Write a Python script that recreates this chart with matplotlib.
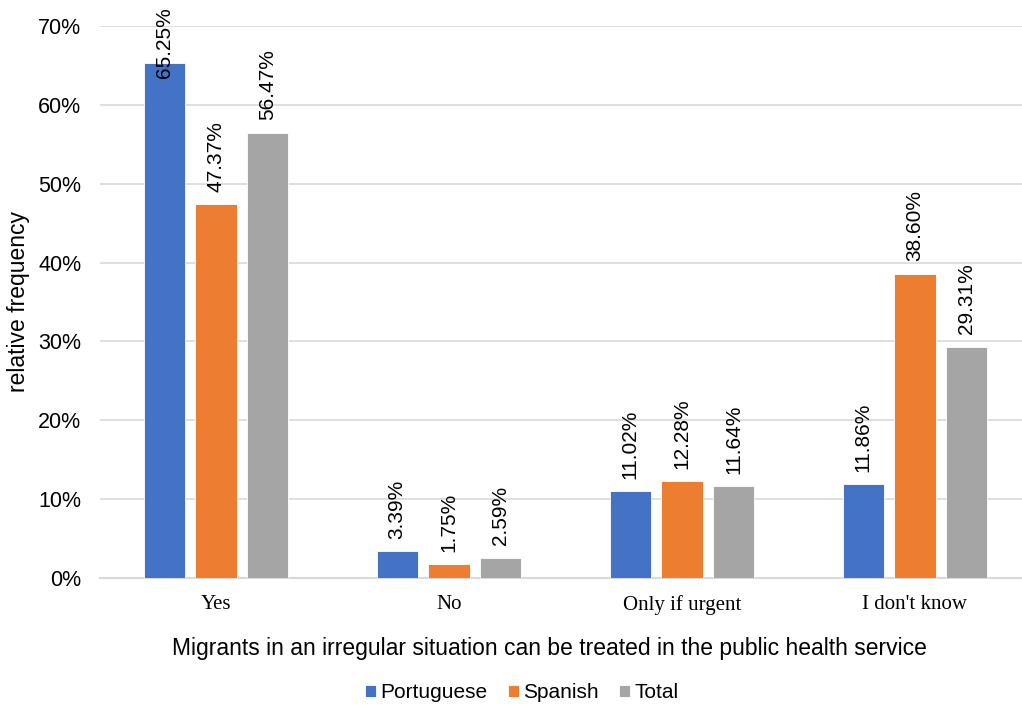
import numpy as np
import matplotlib.pyplot as plt

categories = ["Yes", "No", "Only if urgent", "I don't know"]
series_names = ["Portuguese", "Spanish", "Total"]
portuguese = [65.25, 3.39, 11.02, 11.86]
spanish = [47.37, 1.75, 12.28, 38.60]
total = [56.47, 2.59, 11.64, 29.31]
y_ticks = [0, 10, 20, 30, 40, 50, 60, 70]

colors = ["#4472C4", "#ED7D31", "#A5A5A5"]

plt.rcParams['font.family'] = ['Liberation Sans', 'DejaVu Sans']

fig = plt.figure(figsize=(10.22, 7.08), dpi=100)
# plot area runs slightly past the right edge of the figure
ax = fig.add_axes([99.5 / 1022, 1 - 578 / 708, 932 / 1022, (578 - 26) / 708])

x = np.arange(len(categories))
width = 0.176
step = 0.223

for i, (name, vals) in enumerate(zip(series_names, [portuguese, spanish, total])):
    pos = x + (i - 1) * step
    ax.bar(pos, vals, width, color=colors[i], label=name, zorder=3,
           edgecolor='white', linewidth=0.6)
    for px, v in zip(pos, vals):
        txt = f"{v:.2f}%"
        if v > 60:
            # no room above the bar, pin the label to the top edge
            ax.text(px, 72.4, txt, rotation=90, ha='center', va='top',
                    fontsize=15, clip_on=False, zorder=4)
        else:
            ax.annotate(txt, (px, v), xytext=(0, 9), textcoords='offset points',
                        rotation=90, ha='center', va='bottom', fontsize=15,
                        zorder=4)

ax.set_xlim(-0.5, len(categories) - 0.5)
ax.set_ylim(0, 70)
ax.set_yticks(y_ticks)
ax.set_yticklabels([f"{t}%" for t in y_ticks], fontsize=15.5)
ax.set_xticks(x)
ax.set_xticklabels(categories, fontsize=15, family='Liberation Serif')
ax.tick_params(axis='y', length=0, pad=13)
ax.tick_params(axis='x', length=0, pad=12)

ax.grid(axis='y', color='#D9D9D9', linewidth=1.2, zorder=0)
for s in ['top', 'right', 'left']:
    ax.spines[s].set_visible(False)
ax.spines['bottom'].set_color('#D9D9D9')
ax.spines['bottom'].set_linewidth(1.5)

ax.set_ylabel("relative frequency", fontsize=16.5)
ax.yaxis.set_label_coords(-0.075, 0.5)
ax.set_xlabel("Migrants in an irregular situation can be treated in the public health service",
              fontsize=16.5)
ax.xaxis.set_label_coords(0.483, -0.107)

ax.legend(loc='center', bbox_to_anchor=(0.453, -0.208), ncol=3, frameon=False,
          fontsize=15, handlelength=0.55, handleheight=0.55, handletextpad=0.2,
          columnspacing=0.95)

fig.savefig("out.png", dpi=100)
